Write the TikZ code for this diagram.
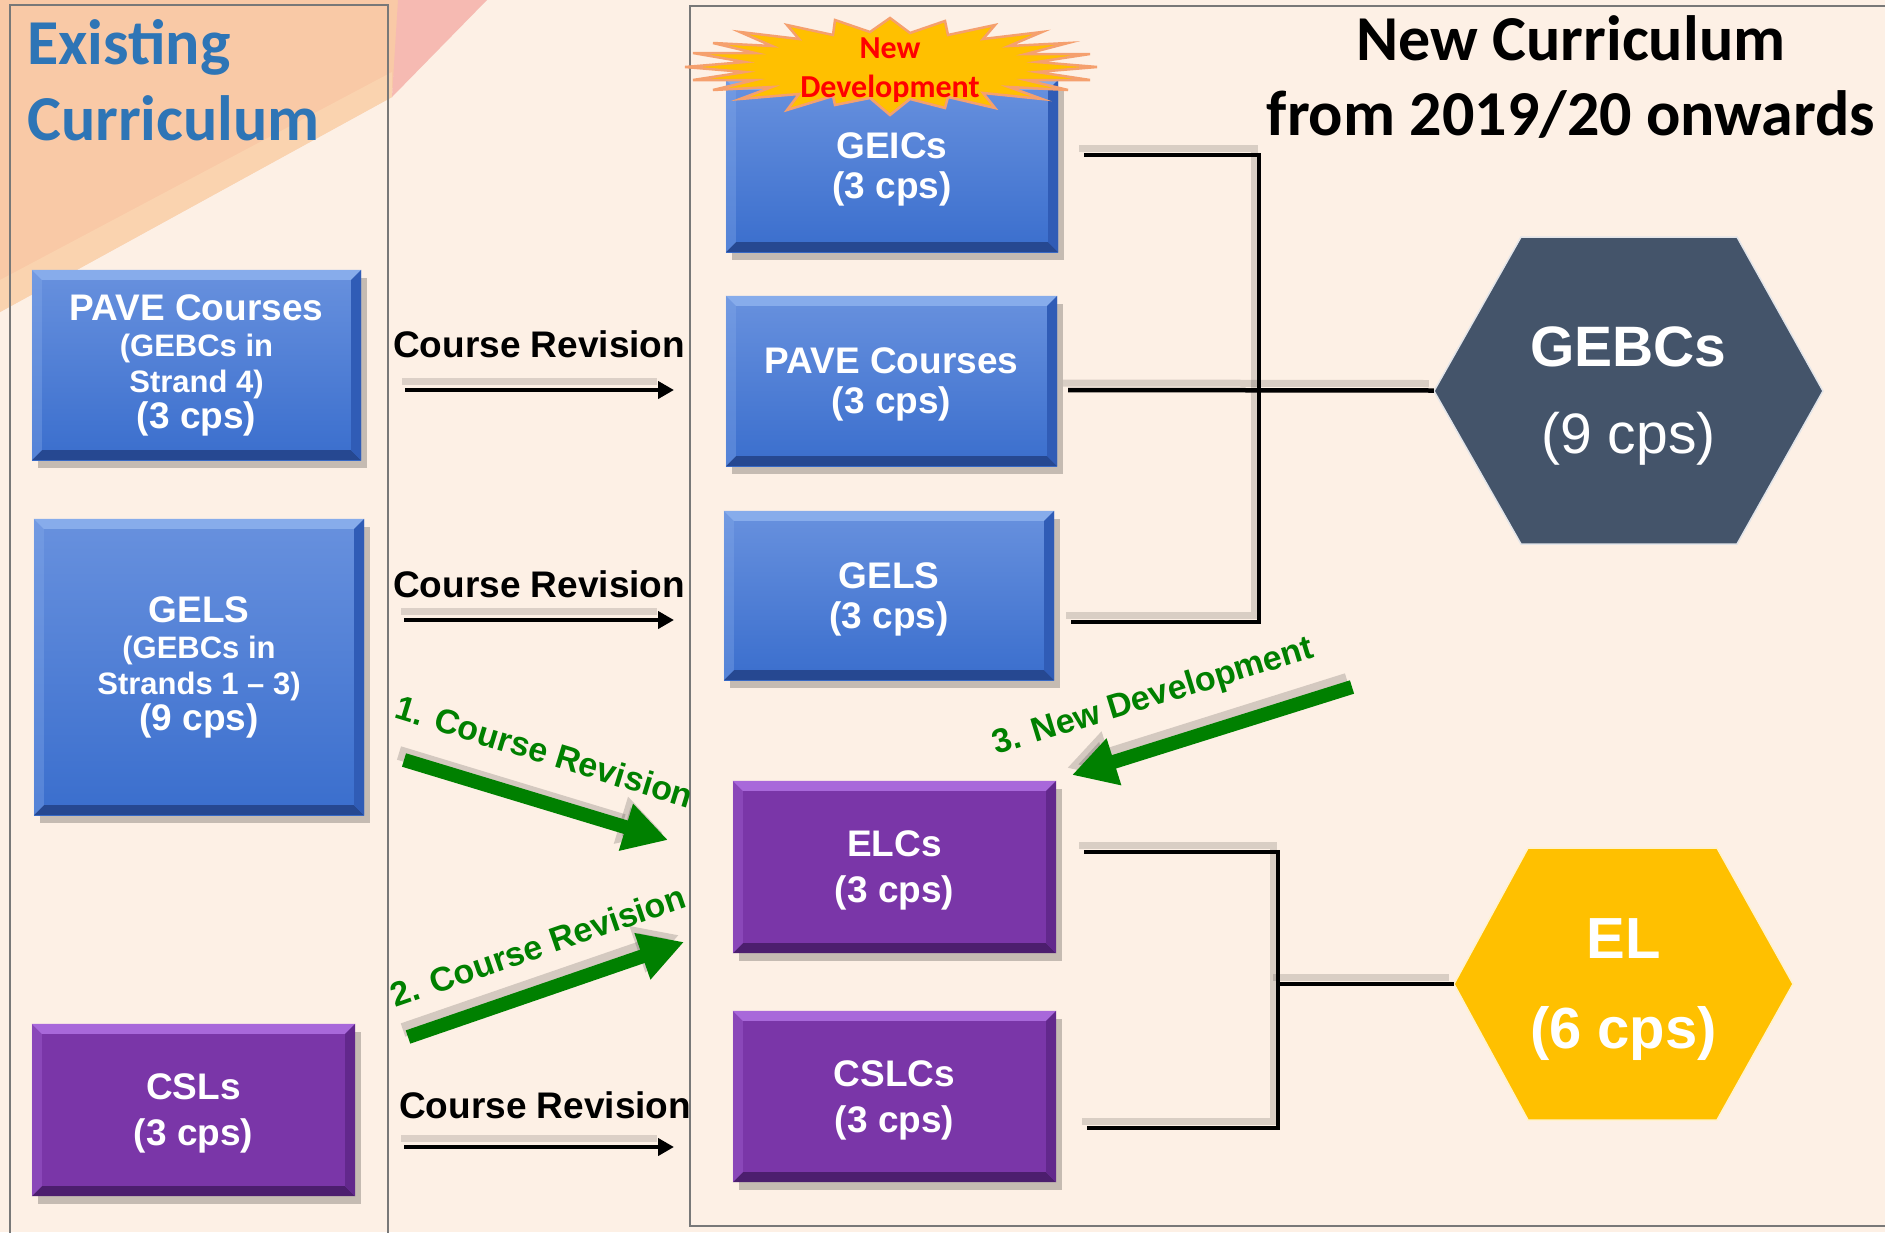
\documentclass[tikz,border=0pt]{standalone}
\usepackage{fontspec}
\setmainfont{Liberation Sans}
\newfontfamily\calfont{Carlito}
\usetikzlibrary{arrows.meta,shadows}
\definecolor{bgpeach}{RGB}{253,240,229}
\definecolor{orangeA}{RGB}{249,201,166}
\definecolor{orangeB}{RGB}{251,214,178}
\definecolor{pinkA}{RGB}{246,186,178}
\definecolor{paneline}{RGB}{120,120,120}
\definecolor{titleblue}{RGB}{46,117,182}
\definecolor{bluetop}{RGB}{104,145,222}
\definecolor{bluebot}{RGB}{58,110,205}
\definecolor{bluelight}{RGB}{135,172,235}
\definecolor{bluedark}{RGB}{38,72,145}
\definecolor{blueside}{RGB}{48,92,182}
\definecolor{purpface}{RGB}{122,54,168}
\definecolor{purplight}{RGB}{168,104,218}
\definecolor{purpdark}{RGB}{76,30,110}
\definecolor{purpside}{RGB}{98,40,140}
\definecolor{greenarr}{RGB}{0,128,0}
\definecolor{starfill}{RGB}{255,192,0}
\definecolor{starline}{RGB}{245,160,110}
\definecolor{hexslate}{RGB}{68,84,106}
\definecolor{hexgold}{RGB}{255,192,0}
\pgfdeclarelayer{under}
\pgfsetlayers{under,main}
\newcommand\mybevel[4]{%
 \fill[#2] (#1.north west) -- (#1.north east) -- ([shift={(-10,10)}]#1.north east) -- ([shift={(10,10)}]#1.north west) -- cycle;
 \fill[#3] (#1.south west) -- (#1.south east) -- ([shift={(-10,-10)}]#1.south east) -- ([shift={(10,-10)}]#1.south west) -- cycle;
 \fill[#4] (#1.north east) -- (#1.south east) -- ([shift={(-10,-10)}]#1.south east) -- ([shift={(-10,10)}]#1.north east) -- cycle;
 \fill[#2,opacity=.35] (#1.north west) -- (#1.south west) -- ([shift={(10,-10)}]#1.south west) -- ([shift={(10,10)}]#1.north west) -- cycle;
}
\newcommand\smallline{\fontsize{31}{36}\selectfont}
\begin{document}
\begin{tikzpicture}[x=1pt,y=-1pt,
  boxtxt/.style={text=white, align=center, inner sep=0pt},
  bshadow/.style={drop shadow={shadow xshift=6pt, shadow yshift=-8pt, opacity=.22, fill=black}},
  bluebox/.style={boxtxt, bshadow, top color=bluetop, bottom color=bluebot},
  purplebox/.style={boxtxt, bshadow, fill=purpface},
  leftfont/.style={font=\bfseries\fontsize{37}{36}\selectfont},
  rightfont/.style={font=\bfseries\fontsize{37}{40}\selectfont, text depth=0pt},
  purpfont/.style={font=\bfseries\fontsize{37}{46}\selectfont, text depth=-4pt},
  hexnode/.style={text=white, align=center, inner sep=0pt, text depth=0pt},
  bigtitle/.style={font=\calfont\bfseries\fontsize{64}{75}\selectfont, inner sep=0pt},
  crlabel/.style={font=\bfseries\fontsize{37}{40}\selectfont, inner sep=0pt, anchor=base west},
  greenlabel/.style={font=\bfseries\fontsize{34}{40}\selectfont, text=greenarr, inner sep=0pt, anchor=base},
  blackarrow/.style={line width=4.3pt, -{Triangle[length=16pt,width=17pt]}},
  blackshadow/.style={line width=7pt, black, opacity=.13, transform canvas={shift={(-3,-9)}}},
  greenarrow/.style={line width=14pt, greenarr, -{Triangle[length=44pt,width=46pt]}},
  greenshadow/.style={line width=14pt, black, opacity=.16, -{Triangle[length=44pt,width=46pt]}, transform canvas={shift={(-5,-7)}}},
  conn/.style={line width=4.5pt, black},
  connshadow/.style={line width=7pt, black, opacity=.14, transform canvas={shift={(-5,-7)}}}
]
\useasboundingbox (0,0) rectangle (1885,1232);
\clip (0,0) rectangle (1885,1232);
\begin{pgfonlayer}{under}
\fill[bgpeach] (0,0) rectangle (1885,1232);
\fill[orangeA] (0,0) -- (400,0) -- (392,97) -- (0,312) -- cycle;
\fill[orangeB, opacity=.8] (0,312) -- (392,97) -- (392,72) -- (0,280) -- cycle;
\fill[pinkA] (398,0) -- (487,0) -- (392,97) -- cycle;
% hexagons
\draw[fill=hexslate, draw=white!85!hexslate, line width=1.5pt] (1434,391) -- (1521,237) -- (1737,237) -- (1823,391) -- (1737,544) -- (1521,544) -- cycle;
\draw[fill=hexgold, draw=white!80!hexgold, line width=1.5pt] (1454,984) -- (1528,848) -- (1717,848) -- (1793,984) -- (1717,1120) -- (1528,1120) -- cycle;
\end{pgfonlayer}
% panels
\draw[paneline, line width=2pt] (10,1240) -- (10,5) -- (388,5) -- (388,1240);
\draw[paneline, line width=2pt] (1895,6) -- (690,6) -- (690,1226) -- (1895,1226);
% titles
\node[bigtitle, text=titleblue, anchor=base west] (ex1) at (27,64) {Existing};
\node[bigtitle, text=titleblue, anchor=base west] (ex2) at (27,140) {Curriculum};
\node[bigtitle, anchor=base] (nc1) at (1571,60) {New Curriculum};
\node[bigtitle, anchor=base] (nc2) at (1571,135) {from 2019/20 onwards};
% left boxes
\node[bluebox, leftfont, minimum width=329pt, minimum height=190pt] (pave1) at (196.5,365) {PAVE Courses\\\smallline (GEBCs in\\\smallline Strand 4)\\(3 cps)};
\mybevel{pave1}{bluelight}{bluedark}{blueside}
\node[bluebox, leftfont, minimum width=330pt, minimum height=296pt] (gels1) at (199,667) {GELS\\\smallline (GEBCs in\\\smallline Strands 1 \textendash{} 3)\\(9 cps)};
\mybevel{gels1}{bluelight}{bluedark}{blueside}
\node[purplebox, purpfont, minimum width=323pt, minimum height=172pt] (csls1) at (193.5,1110) {CSLs\\(3 cps)};
\mybevel{csls1}{purplight}{purpdark}{purpside}
% right boxes
\node[bluebox, rightfont, minimum width=332pt, minimum height=172pt] (geics) at (892,166) {GEICs\\(3 cps)};
\mybevel{geics}{bluelight}{bluedark}{blueside}
\node[bluebox, rightfont, minimum width=331pt, minimum height=170pt] (pave2) at (891.5,381) {PAVE Courses\\(3 cps)};
\mybevel{pave2}{bluelight}{bluedark}{blueside}
\node[bluebox, rightfont, minimum width=330pt, minimum height=169pt] (gels2) at (889,595.5) {GELS\\(3 cps)};
\mybevel{gels2}{bluelight}{bluedark}{blueside}
\node[purplebox, purpfont, minimum width=323pt, minimum height=172pt] (elcs) at (894.5,867) {ELCs\\(3 cps)};
\mybevel{elcs}{purplight}{purpdark}{purpside}
\node[purplebox, purpfont, minimum width=323pt, minimum height=171pt] (cslcs) at (894.5,1096.5) {CSLCs\\(3 cps)};
\mybevel{cslcs}{purplight}{purpdark}{purpside}
% starburst
\begin{scope}[shift={(890,67)}]
\draw[fill=starfill, draw=starline, line width=2.5pt, line join=miter] (0,-49) -- (20,-34) -- (55,-46) -- (58,-32) -- (105,-42) -- (93,-28) -- (152,-35) -- (119,-21) -- (178,-24) -- (136,-13) -- (200,-13) -- (147,-5) -- (207,0) -- (147,5) -- (200,13) -- (136,13) -- (178,23) -- (119,20) -- (152,32) -- (93,26) -- (105,41) -- (58,30) -- (55,41) -- (20,32) -- (0,48) -- (-20,31) -- (-55,38) -- (-57,29) -- (-103,43) -- (-91,27) -- (-150,32) -- (-118,20) -- (-177,23) -- (-135,13) -- (-197,13) -- (-145,5) -- (-205,0) -- (-145,-5) -- (-197,-14) -- (-135,-14) -- (-177,-24) -- (-118,-21) -- (-150,-35) -- (-91,-28) -- (-103,-42) -- (-57,-32) -- (-55,-47) -- (-20,-35) -- cycle;
\end{scope}
\node[font=\calfont\bfseries\fontsize{32}{39}\selectfont, text=red, align=center, inner sep=0pt] (newdev) at (890,70) {New\\Development};
% hexagon labels
\node[hexnode, font=\bfseries\fontsize{57}{87}\selectfont, minimum width=389pt, minimum height=307pt] (gebc) at (1628.5,390.5) {GEBCs\\\mdseries (9 cps)};
\node[hexnode, font=\bfseries\fontsize{58}{90}\selectfont, minimum width=339pt, minimum height=272pt] (el) at (1623.5,984) {EL\\(6 cps)};
% black course revision arrows
\coordinate (a1s) at (405,390); \coordinate (a1e) at (674,390);
\coordinate (a2s) at (404,620); \coordinate (a2e) at (674,620);
\coordinate (a3s) at (404,1147); \coordinate (a3e) at (674,1147);
\draw[blackshadow] (a1s) -- ([xshift=-14]a1e);
\draw[blackshadow] (a2s) -- ([xshift=-14]a2e);
\draw[blackshadow] (a3s) -- ([xshift=-14]a3e);
\draw[blackarrow] (a1s) -- (a1e);
\draw[blackarrow] (a2s) -- (a2e);
\draw[blackarrow] (a3s) -- (a3e);
\node[crlabel] (cr1) at (393,357) {Course Revision};
\node[crlabel] (cr2) at (393,597) {Course Revision};
\node[crlabel] (cr3) at (399,1118) {Course Revision};
% green arrows
\coordinate (g1s) at (404,760); \coordinate (g1e) at (668,840);
\coordinate (g2s) at (408,1037); \coordinate (g2e) at (684,942);
\coordinate (g3s) at (1352,687); \coordinate (g3e) at (1072,775);
\draw[greenshadow] (g1s) -- (g1e);
\draw[greenshadow] (g2s) -- (g2e);
\draw[greenshadow] (g3s) -- (g3e);
\draw[greenarrow] (g1s) -- (g1e);
\draw[greenarrow] (g2s) -- (g2e);
\draw[greenarrow] (g3s) -- (g3e);
\node[greenlabel, rotate=-17] (gl1) at (541,763) {1. Course Revision};
\node[greenlabel, rotate=19] (gl2) at (542,957) {2. Course Revision};
\node[greenlabel, rotate=17] (gl3) at (1156,706) {3. New Development};
% GEBC bracket
\coordinate (gbTop) at (1259,155);
\coordinate (gbBot) at (1259,622);
\draw[connshadow] ([shift={(26,-11)}]geics.east) -- (gbTop) -- (gbBot) -- ([shift={(17,26.5)}]gels2.east);
\draw[connshadow] ([shift={(11,9)}]pave2.east) -- (gebc.west);
\draw[conn] ([shift={(26,-11)}]geics.east) -- (gbTop) -- (gbBot) -- ([shift={(17,26.5)}]gels2.east);
\draw[conn] ([shift={(11,9)}]pave2.east) -- (gebc.west);
% EL bracket
\coordinate (elTop) at (1278,852);
\coordinate (elBot) at (1278,1128);
\draw[connshadow] ([shift={(28,-15)}]elcs.east) -- (elTop) -- (elBot) -- ([shift={(31,31.5)}]cslcs.east);
\draw[connshadow] (elTop |- el.west) -- (el.west);
\draw[conn] ([shift={(28,-15)}]elcs.east) -- (elTop) -- (elBot) -- ([shift={(31,31.5)}]cslcs.east);
\draw[conn] (elTop |- el.west) -- (el.west);
\end{tikzpicture}
\end{document}
